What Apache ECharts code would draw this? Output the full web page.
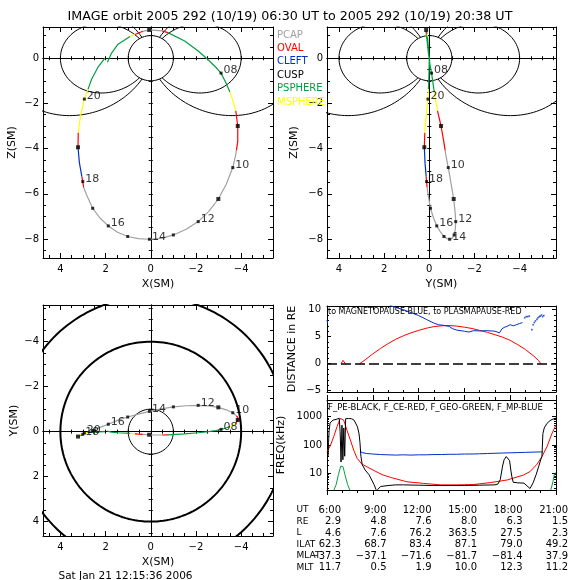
<!DOCTYPE html>
<html><head><meta charset="utf-8">
<script src="https://cdn.jsdelivr.net/npm/echarts@6/dist/echarts.min.js"></script>
<style>html,body{margin:0;padding:0;background:#fff}#c{width:580px;height:580px}</style>
</head><body><div id="c"></div>
<script>
// ---------------- DATA ----------------
const titleText = 'IMAGE orbit 2005 292 (10/19) 06:30 UT to 2005 292 (10/19) 20:38 UT';
const dateText = 'Sat Jan 21 12:15:36 2006';

const orbitTime = ['06:30','06:36','06:42','06:48','06:51','06:55','07:00','07:05','07:09','07:20','07:30','07:40','07:50','08:00','08:10','08:20','08:30','08:40','09:00','09:20','09:32','09:40','10:00','10:30','11:00','11:30','12:00','12:30','13:00','13:30','14:00','14:30','15:00','15:30','16:00','16:30','17:00','17:30','17:53','18:00','18:05','18:30','19:00','19:18','19:40','20:00','20:10','20:20','20:30','20:38'];
const orbitX = [1.92,1.75,1.45,0.92,0.70,0.35,0.07,-0.50,-0.76,-1.50,-2.10,-2.55,-2.88,-3.11,-3.32,-3.50,-3.65,-3.76,-3.85,-3.85,-3.79,-3.75,-3.63,-3.34,-2.99,-2.57,-2.10,-1.57,-1.00,-0.47,0.06,0.55,1.02,1.47,1.88,2.25,2.57,2.82,2.97,3.01,3.05,3.16,3.22,3.21,3.11,2.94,2.78,2.62,2.35,2.03];
const orbitY = [-0.02,0.02,0.05,0.08,0.10,0.12,0.14,0.15,0.14,0.10,0.05,0.00,-0.05,-0.10,-0.16,-0.22,-0.29,-0.36,-0.52,-0.64,-0.70,-0.74,-0.84,-0.97,-1.08,-1.14,-1.17,-1.15,-1.10,-1.01,-0.90,-0.78,-0.65,-0.50,-0.33,-0.19,-0.05,0.04,0.10,0.12,0.14,0.19,0.22,0.20,0.14,0.06,0.04,0.02,0.01,0.00];
const orbitZ = [-0.18,0.20,0.62,0.96,1.05,1.19,1.25,1.21,1.13,0.76,0.32,-0.08,-0.40,-0.66,-1.08,-1.50,-1.92,-2.32,-3.00,-3.68,-4.08,-4.32,-4.84,-5.58,-6.23,-6.78,-7.23,-7.57,-7.82,-7.97,-8.01,-7.98,-7.89,-7.70,-7.42,-7.07,-6.64,-6.10,-5.72,-5.46,-5.24,-4.62,-3.94,-3.30,-2.55,-1.81,-1.38,-0.93,-0.42,0.00];
// region of the segment that starts at each sample: 0 PCAP,1 OVAL,2 CLEFT,3 CUSP,4 PSPHERE,5 MSPHERE
const orbitRegion = [4,4,4,5,1,0,0,1,4,4,4,4,4,4,4,5,5,1,1,1,0,0,0,0,0,0,0,0,0,0,0,0,0,0,0,0,0,0,1,1,2,2,1,5,5,5,4,4,4,null];
const regionNames = ['PCAP','OVAL','CLEFT','CUSP','PSPHERE','MSPHERE'];
const regionColors = ['#a0a0a0','#ff0000','#0030c8','#000000','#00a040','#ffff00'];
const labelledHours = ['08:00','10:00','12:00','14:00','16:00','18:00','20:00'];
const bigMarkHours = ['07:00','09:00','11:00','19:00'];

const fieldLineL = [4, 6.6];
const earthRadius = 1;
const xyRings = [1, 4, 6];
const xyRingWidth = [1, 2, 2];

const orbitTicksMajor = [-4, -2, 0, 2, 4];
const zTicksMajor = [-8, -6, -4, -2, 0];

// distance panel
const ppTime = [6.00,6.08,null,6.93,7.05,7.20,null,8.15,8.50,9.00,9.50,10.00,10.50,11.00,11.50,12.00,12.50,13.00,13.50,14.00,14.50,15.00,15.50,16.00,16.50,17.00,17.50,18.00,18.50,19.00,19.50,19.85,20.00];
const ppDist = [0.2,0,null,0,0.6,0,null,0,0.7,1.8,2.8,3.7,4.5,5.15,5.7,6.15,6.55,6.85,7.0,7.05,6.95,6.75,6.5,6.15,5.8,5.35,4.9,4.3,3.5,2.6,1.5,0.6,0];
const mpTime = [6.00,6.04,null,10.10,10.50,11.00,11.50,12.00,12.50,13.00,13.30,13.60,14.00,14.20,14.50,15.00,15.30,15.60,16.00,16.50,17.00,17.30,17.45,17.60,17.80,18.00,18.20,18.40,18.60,18.80];
const mpDist = [8.1,7.5,null,10.8,10.4,10.0,9.45,8.9,8.2,7.5,7.2,7.1,6.9,6.5,6.2,6.0,5.85,6.1,6.05,6.1,6.0,5.7,6.4,6.7,6.9,7.2,7.0,7.2,7.4,7.6];
const mpDotTime = [18.95,19.05,19.15,19.25,19.42,19.50,19.58,19.65,19.75,19.82,19.90,19.97,20.05,20.12,20.20];
const mpDotDist = [8.5,8.7,8.7,8.8,6.3,7.2,7.6,7.9,8.2,8.5,8.7,8.8,9.0,8.7,8.9];
const distTicksMajor = [-5, 0, 5, 10];

// frequency panel (kHz)
const fceTime = [6.0,6.22,6.44,6.66,6.87,6.96,7.09,7.31,7.53,7.75,7.97,8.29,8.75,9.6,10.15,11.24,12.33,13.42,14.5,15.6,16.7,17.8,18.88,19.3,19.76,20.08,20.41,20.74,21.0];
const fceFreq = [58,95,196,450,870,950,760,330,150,66,34,21,15.5,9,7.2,5.0,4.4,3.9,3.9,4.0,4.7,5.8,8.7,11.5,21,39,87,258,510];
const fpeTime = [6.07,6.10,6.14,6.20,6.40,6.60,6.80,6.86,6.92,6.98,7.04,7.10,7.16,7.22,7.40,7.60,7.75,7.87,8.00,8.10,8.16,8.22,8.31,8.50,8.75,9.08,9.22,null,9.30,9.50,10.0,10.5,11.0,12.0,13.0,14.0,15.0,16.0,17.0,17.2,17.35,17.5,17.6,17.74,17.85,17.96,18.05,18.11,18.2,18.5,18.9,19.1,19.3,19.5,19.7,19.86,20.0,20.08,20.14,20.23,20.41,20.6,20.74,21.0];
const fpeFreq = [40,120,320,600,760,800,880,300,25,500,30,400,40,850,860,850,780,600,430,250,120,40,20,13,9,4,2.6,null,2.6,3.4,3.7,3.9,3.9,3.8,3.7,3.7,3.7,3.8,3.9,4.2,6,18,30,39,35,28,12,7.5,4.8,4.6,4.5,3.6,2.9,4.6,9,17,30,40,250,400,580,720,800,890];
const fgeoTime = [6.45,6.6,6.75,6.9,6.98,7.05,7.2,7.35,7.5,null,20.65,20.8,20.9,21.0];
const fgeoFreq = [2.5,4,9,18,20,17,8,4,2.5,null,2.5,5,9.5,10.5];
const fmpTime = [8.16,8.3,8.6,9,9.5,10,10.5,11,11.5,12,12.5,13,13.5,14,14.5,15,15.5,16,16.5,17,17.5,18,18.5,19,19.5,20,20.14];
const fmpFreq = [60,54,50,48,46,45,44,45,44,45,45,46,46,47,47,48,48,49,50,51,52,53,54,55,56,57,57];
const freqTicksMajor = [10, 100, 1000];
const freqTicksMinor = [3,4,5,6,7,8,9,20,30,40,50,60,70,80,90,200,300,400,500,600,700,800,900,2000,3000];

const timeTicksMajor = [6, 9, 12, 15, 18, 21];
const timeTicksMinor = [7, 8, 10, 11, 13, 14, 16, 17, 19, 20];

const distLegendText = 'to MAGNETOPAUSE-BLUE, to PLASMAPAUSE-RED';
const freqLegendText = 'F_PE-BLACK, F_CE-RED, F_GEO-GREEN, F_MP-BLUE';

const tableRowNames = ['UT','RE','L','ILAT','MLAT','MLT'];
const tableUT   = ['6:00','9:00','12:00','15:00','18:00','21:00'];
const tableRE   = ['2.9','4.8','7.6','8.0','6.3','1.5'];
const tableL    = ['4.6','7.6','76.2','363.5','27.5','2.3'];
const tableILAT = ['62.3','68.7','83.4','87.1','79.0','49.2'];
const tableMLAT = ['-37.3','-37.1','-71.6','-81.7','-81.4','37.9'];
const tableMLT  = ['11.7','0.5','1.9','10.0','12.3','11.2'];

// ---------------- BUILD ----------------
const FONT = 'DejaVu Sans';
const minus = s => String(s).replace('-', '\u2212');
function rng(a, b, step, skip) {
  const out = [];
  for (let v = a; v <= b + 1e-9; v += step) {
    const r = Math.round(v * 100) / 100;
    if (!skip || skip.indexOf(r) < 0) out.push(r);
  }
  return out;
}

const grid = [
  {left: 43, top: 27, width: 230, height: 231},
  {left: 327, top: 27, width: 229, height: 231},
  {left: 43, top: 305, width: 230, height: 231},
  {left: 327, top: 306, width: 229, height: 86},
  {left: 327, top: 400, width: 229, height: 90}
];
const xAxis = [], yAxis = [], series = [];

function axisSet(gi, dim, o) {
  const list = dim === 'x' ? xAxis : yAxis;
  const pos = dim === 'x' ? ['bottom', 'top'] : ['left', 'right'];
  const mainIndex = list.length;
  pos.forEach((p, k) => {
    const inside = k === 0 ? o.inMain : o.inOther;
    const common = {gridIndex: gi, type: o.type || 'value', min: o.min, max: o.max, inverse: !!o.inverse,
      position: p, splitLine: {show: false}, splitArea: {show: false}, minorTick: {show: false}, silent: true};
    if (o.type === 'log') common.logBase = 10;
    list.push(Object.assign({}, common, {
      axisLine: {show: true, onZero: false, lineStyle: {color: '#000', width: 1}},
      axisTick: {show: true, inside: inside, length: o.majLen, customValues: o.major, lineStyle: {color: '#000', width: 1}},
      axisLabel: (k === 0 && o.labels) ? {show: true, customValues: o.major, formatter: v => minus(v),
        color: '#000', fontFamily: FONT, fontSize: 10, margin: o.margin} : {show: false},
      name: k === 0 ? (o.name || '') : '', nameLocation: 'middle', nameGap: o.nameGap || 20,
      nameTextStyle: {color: '#000', fontFamily: FONT, fontSize: 11}
    }));
    list.push(Object.assign({}, common, {
      axisLine: {show: false, onZero: false},
      axisTick: {show: true, inside: inside, length: o.minLen, customValues: o.minor, lineStyle: {color: '#000', width: 1}},
      axisLabel: {show: false}
    }));
  });
  if (o.center) {
    [true, false].forEach(ins => list.push({gridIndex: gi, type: 'value', min: o.min, max: o.max, inverse: !!o.inverse,
      position: pos[0], splitLine: {show: false}, silent: true,
      axisLine: {show: true, onZero: true, lineStyle: {color: '#000', width: 1}},
      axisTick: {show: true, inside: ins, length: 2, customValues: o.minor.concat(o.major), lineStyle: {color: '#000'}},
      axisLabel: {show: false}}));
  }
  return mainIndex;
}

const xRangeXZ = {min: -5.41, max: 4.77};
const orbitAxisX = (name, r) => ({min: r.min, max: r.max, inverse: true, major: orbitTicksMajor,
  minor: rng(Math.ceil(r.min * 2) / 2, Math.floor(r.max * 2) / 2, 0.5, orbitTicksMajor),
  labels: true, majLen: 5, minLen: 3, inMain: true, inOther: true, name: name, nameGap: 21, margin: 6, center: true});
const zAxisSpec = gap => ({min: -8.84, max: 1.38, major: zTicksMajor, minor: rng(-8.5, 1, 0.5, zTicksMajor),
  labels: true, majLen: 5, minLen: 3, inMain: true, inOther: true, name: 'Z(SM)', nameGap: gap, margin: 4, center: true});

const ax = [];
ax[0] = {x: axisSet(0, 'x', orbitAxisX('X(SM)', xRangeXZ)), y: axisSet(0, 'y', zAxisSpec(25))};
ax[1] = {x: axisSet(1, 'x', orbitAxisX('Y(SM)', {min: -5.61, max: 4.53})), y: axisSet(1, 'y', zAxisSpec(27))};
ax[2] = {x: axisSet(2, 'x', orbitAxisX('X(SM)', xRangeXZ)),
  y: axisSet(2, 'y', {min: -5.63, max: 4.64, inverse: true, major: orbitTicksMajor, minor: rng(-5.5, 4.5, 0.5, orbitTicksMajor),
    labels: true, majLen: 5, minLen: 3, inMain: true, inOther: true, name: 'Y(SM)', nameGap: 23, margin: 4, center: true})};
ax[3] = {x: axisSet(3, 'x', {min: 6, max: 21, major: timeTicksMajor, minor: timeTicksMinor, labels: false, majLen: 4, minLen: 2, inMain: true, inOther: true}),
  y: axisSet(3, 'y', {min: -5.26, max: 10.67, major: distTicksMajor, minor: rng(-5, 10, 1, distTicksMajor), labels: true,
    majLen: 4, minLen: 2, inMain: true, inOther: true, name: 'DISTANCE in RE', nameGap: 29, margin: 6})};
ax[4] = {x: axisSet(4, 'x', {min: 6, max: 21, major: timeTicksMajor, minor: timeTicksMinor, labels: false, majLen: 5, minLen: 3, inMain: false, inOther: false}),
  y: axisSet(4, 'y', {type: 'log', min: 2.57, max: 3890, major: freqTicksMajor, minor: freqTicksMinor, labels: true,
    majLen: 4, minLen: 2, inMain: true, inOther: true, name: 'FREQ(kHz)', nameGap: 40, margin: 5})};

function lineSeries(gi, data, color, width, extra) {
  return Object.assign({type: 'line', xAxisIndex: ax[gi].x, yAxisIndex: ax[gi].y, data: data, showSymbol: false, symbol: 'none',
    silent: true, clip: true, connectNulls: false, animation: false, lineStyle: {color: color, width: width || 1}, z: 3}, extra || {});
}
function pairs(a, b) { return a.map((v, i) => (v == null || b[i] == null) ? ['-', '-'] : [v, b[i]]); }

// background geometry
function dipole(L, side) {
  const lam0 = Math.acos(Math.sqrt(1 / L));
  const pts = [];
  for (let k = 0; k <= 240; k++) {
    const lam = -lam0 + 2 * lam0 * k / 240;
    const c = Math.cos(lam);
    pts.push([side * L * c * c * c, L * c * c * Math.sin(lam)]);
  }
  return pts;
}
function circle(r) {
  const pts = [];
  for (let k = 0; k <= 360; k++) { const a = k * Math.PI / 180; pts.push([r * Math.cos(a), r * Math.sin(a)]); }
  return pts;
}
[0, 1].forEach(gi => {
  fieldLineL.forEach(L => [1, -1].forEach(s => series.push(lineSeries(gi, dipole(L, s), '#000', 1, {z: 2}))));
  series.push(lineSeries(gi, circle(earthRadius), '#000', 1, {z: 2}));
});
xyRings.forEach((r, i) => series.push(lineSeries(2, circle(r), '#000', xyRingWidth[i], {z: 2})));

// orbit projections
const projections = [[orbitX, orbitZ], [orbitY, orbitZ], [orbitX, orbitY]];
function regionData(pa, pb, r) {
  const out = [];
  for (let i = 0; i < orbitTime.length - 1; i++) {
    if (orbitRegion[i] !== r) continue;
    if (i === 0 || orbitRegion[i - 1] !== r) {
      if (out.length) out.push(['-', '-']);
      out.push([pa[i], pb[i]]);
    }
    out.push([pa[i + 1], pb[i + 1]]);
  }
  return out;
}
projections.forEach((pr, gi) => {
  regionNames.forEach((nm, r) => {
    const d = regionData(pr[0], pr[1], r);
    if (d.length) series.push(lineSeries(gi, d, regionColors[r], 1.2, {z: 4}));
  });
  const marks = [];
  orbitTime.forEach((t, i) => {
    if (t.slice(3) !== '00') return;
    const lab = labelledHours.indexOf(t) >= 0;
    marks.push({name: t.slice(0, 2), value: [pr[0][i], pr[1][i]],
      symbolSize: bigMarkHours.indexOf(t) >= 0 ? 4 : 3, label: {show: lab}});
  });
  series.push({type: 'scatter', xAxisIndex: ax[gi].x, yAxisIndex: ax[gi].y, data: marks, symbol: 'rect', silent: true,
    itemStyle: {color: '#000'}, z: 5, animation: false,
    label: {position: 'right', distance: 1, offset: [0, -2.5], formatter: p => p.name, color: '#000', fontFamily: FONT, fontSize: 11}});
});

// distance panel
series.push(lineSeries(3, pairs(ppTime, ppDist), '#ff0000', 1, {
  markLine: {silent: true, symbol: 'none', animation: false, label: {show: false},
    lineStyle: {color: '#000', width: 1.5, type: [10, 4]}, data: [{yAxis: 0}]}}));
series.push(lineSeries(3, pairs(mpTime, mpDist), '#0030c8', 1));
series.push({type: 'scatter', xAxisIndex: ax[3].x, yAxisIndex: ax[3].y, data: pairs(mpDotTime, mpDotDist), symbol: 'rect',
  symbolSize: 1.6, itemStyle: {color: '#0030c8'}, silent: true, animation: false, z: 3});

// frequency panel
series.push(lineSeries(4, pairs(fmpTime, fmpFreq), '#0030c8', 1));
series.push(lineSeries(4, pairs(fgeoTime, fgeoFreq), '#00a040', 1));
series.push(lineSeries(4, pairs(fceTime, fceFreq), '#ff0000', 1));
series.push(lineSeries(4, pairs(fpeTime, fpeFreq), '#000000', 1));

// texts
function txt(x, y, text, size, color, align, valign) {
  return {type: 'text', x: x, y: y, silent: true, z: 10,
    style: {text: text, fill: color || '#000', fontFamily: FONT, fontSize: size, font: size + 'px "' + FONT + '"',
      align: align || 'left', verticalAlign: valign || 'middle', textAlign: align || 'left', textVerticalAlign: valign || 'middle'}};
}
const graphic = [];
regionNames.forEach((nm, i) => graphic.push(txt(277, 35 + 13.4 * i, nm, 10, regionColors[i])));
graphic.push(txt(328, 311.5, distLegendText, 8));
graphic.push(txt(328, 408, freqLegendText, 8.5));
graphic.push(txt(125.5, 576, dateText, 10.5, '#000', 'center'));
const tableRows = [tableUT, tableRE, tableL, tableILAT, tableMLAT, tableMLT];
const tableColRight = [341, 386.5, 431.5, 477, 522.5, 568];
tableRowNames.forEach((nm, r) => {
  const y = 510 + 11.5 * r;
  graphic.push(txt(296.5, y, nm, 9));
  tableRows[r].forEach((v, c) => graphic.push(txt(tableColRight[c], y, minus(v), 10, '#000', 'right')));
});

const chart = echarts.init(document.getElementById('c'), null, {renderer: 'canvas'});
chart.setOption({
  animation: false,
  backgroundColor: '#fff',
  title: {text: titleText, left: 'center', top: 5, textStyle: {fontFamily: FONT, fontSize: 12.7, fontWeight: 'normal', color: '#000'}},
  grid: grid, xAxis: xAxis, yAxis: yAxis, series: series, graphic: graphic
});
</script></body></html>
